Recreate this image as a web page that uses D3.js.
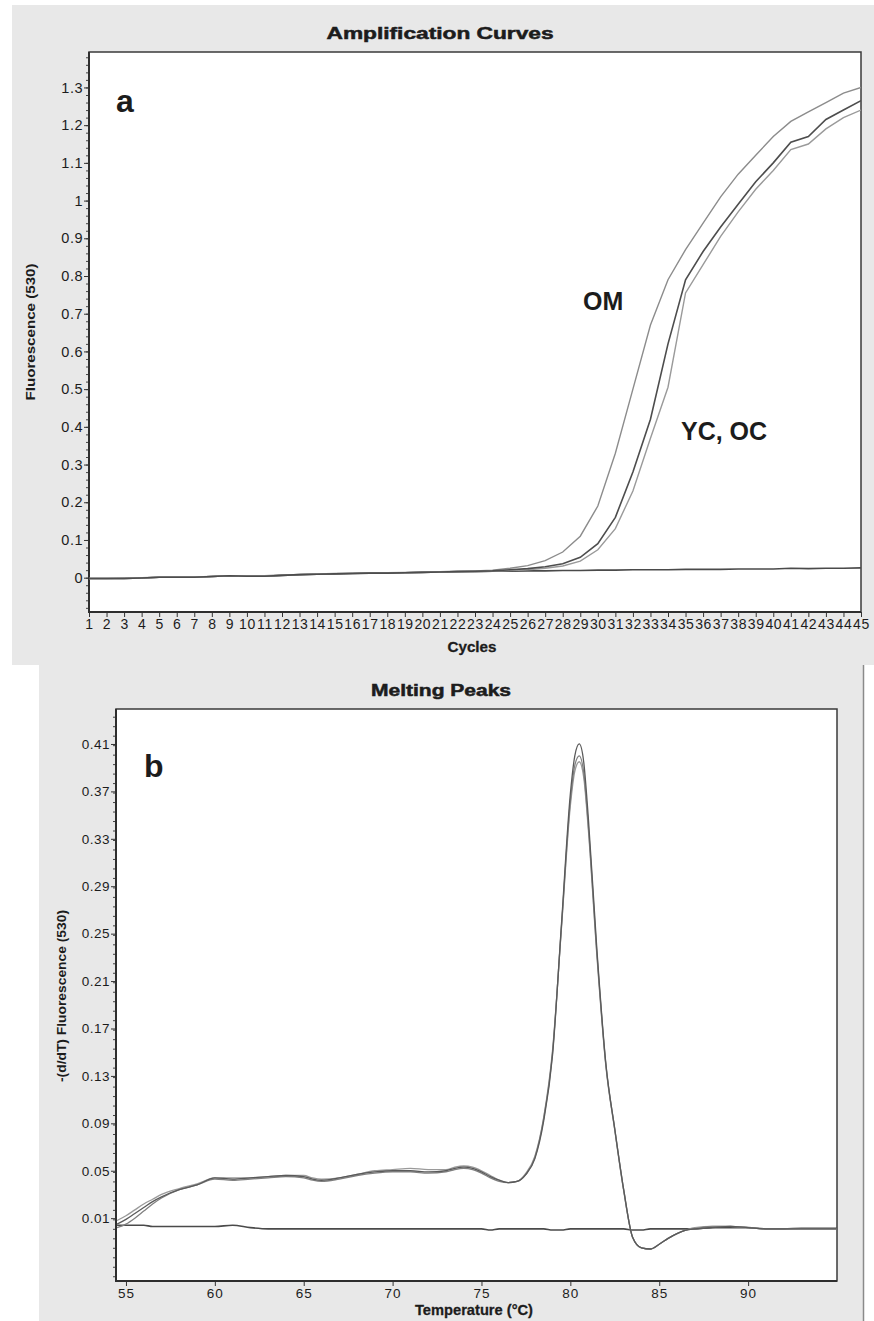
<!DOCTYPE html>
<html>
<head>
<meta charset="utf-8">
<script src="https://d3js.org/d3.v7.min.js"></script>
<style>
    body { margin: 0; background: #fff; }
    svg text { font-family: "Liberation Sans", Arial, sans-serif; fill: #1c1c1c; }
</style>
</head>
<body>
<div id="chart"></div>
<script>

// ---------- amplification data (fluorescence 530 per cycle) ----------
const cycles = [1, 2, 3, 4, 5, 6, 7, 8, 9, 10, 11, 12, 13, 14, 15, 16, 17, 18, 19, 20, 21, 22, 23,
    24, 25, 26, 27, 28, 29, 30, 31, 32, 33, 34, 35, 36, 37, 38, 39, 40, 41, 42, 43, 44, 45];

const omValues = [-0.002, -0.002, -0.001, 0.000, 0.001, 0.002, 0.002, 0.003, 0.005, 0.005, 0.005, 0.007,
    0.008, 0.010, 0.011, 0.012, 0.013, 0.013, 0.014, 0.015, 0.016, 0.017, 0.018, 0.020, 0.025, 0.032,
    0.045, 0.068, 0.110, 0.190, 0.330, 0.500, 0.670, 0.790, 0.870, 0.940, 1.010, 1.070, 1.120, 1.170,
    1.210, 1.235, 1.260, 1.285, 1.300];

const ycValues = [-0.002, -0.002, -0.002, -0.001, 0.001, 0.001, 0.001, 0.003, 0.005, 0.004, 0.004, 0.006,
    0.008, 0.009, 0.010, 0.011, 0.012, 0.012, 0.013, 0.014, 0.015, 0.016, 0.017, 0.018, 0.021, 0.024,
    0.029, 0.037, 0.054, 0.090, 0.160, 0.280, 0.420, 0.620, 0.790, 0.865, 0.930, 0.990, 1.050, 1.100,
    1.155, 1.170, 1.215, 1.240, 1.265];

const ocValues = [-0.002, -0.002, -0.002, -0.001, 0.001, 0.001, 0.001, 0.003, 0.005, 0.004, 0.004, 0.006,
    0.008, 0.009, 0.010, 0.011, 0.012, 0.012, 0.013, 0.014, 0.015, 0.016, 0.016, 0.017, 0.019, 0.021,
    0.025, 0.031, 0.044, 0.074, 0.130, 0.230, 0.370, 0.505, 0.755, 0.830, 0.905, 0.970, 1.030, 1.080,
    1.135, 1.150, 1.190, 1.220, 1.240];

const ntcValues = [-0.002, -0.002, -0.002, -0.001, 0.001, 0.001, 0.001, 0.003, 0.005, 0.004, 0.004, 0.006,
    0.008, 0.009, 0.010, 0.011, 0.012, 0.012, 0.013, 0.014, 0.015, 0.016, 0.016, 0.017, 0.017, 0.018,
    0.018, 0.019, 0.019, 0.020, 0.020, 0.021, 0.021, 0.021, 0.022, 0.022, 0.022, 0.023, 0.023, 0.023,
    0.025, 0.024, 0.025, 0.025, 0.026];

const ampYTicks = [0, 0.1, 0.2, 0.3, 0.4, 0.5, 0.6, 0.7, 0.8, 0.9, 1, 1.1, 1.2, 1.3];

// ---------- melting data (-(d/dT) fluorescence 530 per temperature) ----------
const meltTemps = [54.5, 55, 55.5, 56, 56.5, 57, 58, 59, 60, 61, 62, 63, 64, 65, 65.5, 66, 67, 68, 69, 70,
    71, 72, 73, 73.5, 74, 74.5, 75, 75.5, 76, 76.5, 77, 77.5, 78, 78.5, 79, 79.5, 80, 80.25, 80.5, 80.75,
    81, 81.5, 82, 82.5, 83, 83.5, 84, 84.5, 85, 85.5, 86, 86.5, 87, 88, 89, 90, 91, 92, 93, 94, 95];

const meltA = [0.005, 0.009, 0.014, 0.019, 0.024, 0.028, 0.034, 0.038, 0.044, 0.043, 0.044, 0.045, 0.046,
    0.045, 0.043, 0.042, 0.044, 0.047, 0.049, 0.050, 0.050, 0.049, 0.050, 0.052, 0.053, 0.052, 0.049,
    0.045, 0.042, 0.040, 0.041, 0.047, 0.060, 0.092, 0.148, 0.258, 0.368, 0.400, 0.410, 0.395, 0.350,
    0.235, 0.140, 0.085, 0.034, -0.006, -0.015, -0.016, -0.012, -0.007, -0.003, 0.000, 0.001, 0.002,
    0.003, 0.002, 0.001, 0.001, 0.001, 0.001, 0.001];

const meltB = [0.002, 0.005, 0.010, 0.016, 0.022, 0.027, 0.034, 0.038, 0.043, 0.042, 0.043, 0.044, 0.045,
    0.044, 0.042, 0.041, 0.043, 0.046, 0.048, 0.049, 0.049, 0.048, 0.049, 0.051, 0.052, 0.051, 0.048,
    0.044, 0.041, 0.040, 0.041, 0.047, 0.061, 0.094, 0.150, 0.256, 0.362, 0.392, 0.400, 0.386, 0.343,
    0.232, 0.139, 0.085, 0.034, -0.006, -0.015, -0.016, -0.012, -0.007, -0.003, 0.000, 0.001, 0.003,
    0.003, 0.002, 0.001, 0.001, 0.001, 0.001, 0.001];

const meltC = [0.008, 0.012, 0.017, 0.022, 0.026, 0.030, 0.035, 0.039, 0.044, 0.044, 0.044, 0.045, 0.046,
    0.046, 0.044, 0.043, 0.044, 0.047, 0.050, 0.051, 0.052, 0.051, 0.051, 0.053, 0.054, 0.053, 0.050,
    0.046, 0.042, 0.040, 0.041, 0.048, 0.062, 0.095, 0.152, 0.255, 0.358, 0.387, 0.395, 0.382, 0.340,
    0.230, 0.138, 0.084, 0.033, -0.006, -0.015, -0.016, -0.012, -0.007, -0.003, 0.000, 0.002, 0.003,
    0.003, 0.002, 0.001, 0.001, 0.001, 0.001, 0.001];

const meltNtc = [0.004, 0.004, 0.004, 0.004, 0.003, 0.003, 0.003, 0.003, 0.003, 0.004, 0.002, 0.001, 0.001,
    0.001, 0.001, 0.001, 0.001, 0.001, 0.001, 0.001, 0.001, 0.001, 0.001, 0.001, 0.001, 0.001, 0.001,
    0.000, 0.001, 0.001, 0.001, 0.001, 0.001, 0.001, 0.000, 0.000, 0.001, 0.001, 0.001, 0.001, 0.001,
    0.001, 0.001, 0.001, 0.001, 0.000, 0.000, 0.001, 0.001, 0.001, 0.001, 0.001, 0.001, 0.002, 0.002,
    0.002, 0.001, 0.001, 0.0015, 0.0015, 0.0015];

const meltXTicks = [55, 60, 65, 70, 75, 80, 85, 90];
const meltYTicks = [0.01, 0.05, 0.09, 0.13, 0.17, 0.21, 0.25, 0.29, 0.33, 0.37, 0.41];


/*
 *  CurvePanel - one framed plot with ticks, labels and line series
 */
class CurvePanel {

    constructor(svg, config) {
        this.svg = svg;
        this.config = config;
        this.initVis();
    }

    initVis() {
        let vis = this;
        let c = vis.config;

        vis.g = vis.svg.append("g");

        // scales
        vis.x = d3.scaleLinear().domain(c.xDomain).range([c.left, c.right]);
        vis.y = d3.scaleLinear().domain(c.yDomain).range([c.bottom, c.top]);

        // white plot area
        vis.g.append("rect")
            .attr("x", c.left).attr("y", c.top)
            .attr("width", c.right - c.left).attr("height", c.bottom - c.top)
            .attr("fill", "#fff")
            .attr("stroke", "#3a3a3a").attr("stroke-width", 1.5);

        vis.g.append("clipPath").attr("id", c.id + "-clip")
            .append("rect")
            .attr("x", c.left).attr("y", c.top)
            .attr("width", c.right - c.left).attr("height", c.bottom - c.top);

        // minor y ticks
        vis.g.append("g")
            .attr("transform", "translate(" + c.left + ",0)")
            .call(d3.axisLeft(vis.y).tickValues(c.yMinor).tickSize(3).tickFormat(""))
            .call(g => g.select(".domain").remove())
            .selectAll("line").attr("stroke", "#444");

        // major y ticks
        let yAxis = vis.g.append("g")
            .attr("transform", "translate(" + c.left + ",0)")
            .call(d3.axisLeft(vis.y).tickValues(c.yTicks).tickSize(5).tickPadding(1).tickFormat(c.yFormat));
        yAxis.select(".domain").remove();
        yAxis.selectAll("line").attr("stroke", "#333");
        yAxis.selectAll("text")
            .style("font-size", c.yFont + "px")
            .style("letter-spacing", "0.5px")
            .attr("fill", "#1c1c1c");

        // x ticks
        let xAxis = vis.g.append("g")
            .attr("transform", "translate(0," + c.bottom + ")")
            .call(d3.axisBottom(vis.x).tickValues(c.xTicks).tickSize(5).tickPadding(2).tickFormat(d => d));
        xAxis.select(".domain").remove();
        xAxis.selectAll("line").attr("stroke", "#333");
        xAxis.selectAll("text")
            .style("font-size", c.xFont + "px")
            .style("letter-spacing", c.xSpacing + "px")
            .attr("fill", "#1c1c1c");

        // heavier left and bottom axis lines
        vis.g.append("line")
            .attr("x1", c.left).attr("x2", c.left).attr("y1", c.top).attr("y2", c.bottom + 1)
            .attr("stroke", "#2e2e2e").attr("stroke-width", 2);
        vis.g.append("line")
            .attr("x1", c.left - 1).attr("x2", c.right).attr("y1", c.bottom).attr("y2", c.bottom)
            .attr("stroke", "#2e2e2e").attr("stroke-width", 2);

        // series
        let line = d3.line()
            .x(d => vis.x(d[0]))
            .y(d => vis.y(d[1]))
            .curve(c.curve);

        vis.g.append("g")
            .attr("clip-path", "url(#" + c.id + "-clip)")
            .selectAll("path")
            .data(c.series)
            .join("path")
            .attr("d", s => line(c.xValues.map((xv, i) => [xv, s.values[i]])))
            .attr("fill", "none")
            .attr("stroke", s => s.color)
            .attr("stroke-width", s => s.width);

        // title and axis titles (heavy, wide bitmap-like look)
        vis.g.append("text")
            .attr("x", c.title.x).attr("y", c.title.y)
            .attr("text-anchor", "middle")
            .attr("textLength", c.title.len).attr("lengthAdjust", "spacingAndGlyphs")
            .style("font-size", "16px").style("font-weight", "bold")
            .attr("stroke", "#1c1c1c").attr("stroke-width", 0.5)
            .text(c.title.text);

        vis.g.append("text")
            .attr("x", c.xLabel.x).attr("y", c.xLabel.y)
            .attr("text-anchor", "middle")
            .attr("textLength", c.xLabel.len).attr("lengthAdjust", "spacingAndGlyphs")
            .style("font-size", "15px").style("font-weight", "bold")
            .attr("stroke", "#1c1c1c").attr("stroke-width", 0.3)
            .text(c.xLabel.text);

        vis.g.append("text")
            .attr("transform", "translate(" + c.yLabel.x + "," + c.yLabel.y + ") rotate(-90)")
            .attr("text-anchor", "middle")
            .attr("textLength", c.yLabel.len).attr("lengthAdjust", "spacingAndGlyphs")
            .style("font-size", "13px").style("font-weight", "bold")
            .text(c.yLabel.text);

        // annotations (panel letter, sample names)
        vis.g.selectAll(".note")
            .data(c.notes)
            .join("text")
            .attr("class", "note")
            .attr("x", d => d.x).attr("y", d => d.y)
            .style("font-size", d => d.size + "px")
            .style("font-weight", "bold")
            .attr("fill", "#111")
            .text(d => d.text);
    }
}


// ---------- page ----------
const svg = d3.select("#chart").append("svg")
    .attr("width", 874)
    .attr("height", 1321);

// grey panel backgrounds
svg.append("rect").attr("x", 12).attr("y", 5).attr("width", 862).attr("height", 660).attr("fill", "#e8e8e8");
svg.append("rect").attr("x", 39).attr("y", 665).attr("width", 824).attr("height", 656).attr("fill", "#e8e8e8");
svg.append("line").attr("x1", 863.5).attr("x2", 863.5).attr("y1", 665).attr("y2", 1321)
    .attr("stroke", "#8a8a8a").attr("stroke-width", 1.5);

// a: amplification curves
new CurvePanel(svg, {
    id: "amp",
    left: 89, right: 861, top: 52, bottom: 612,
    xDomain: [1, 45], yDomain: [-0.091, 1.394],
    xValues: cycles,
    xTicks: cycles, xFont: 14, xSpacing: 0.6,
    yTicks: ampYTicks, yFont: 14.5,
    yMinor: d3.range(-0.08, 1.39, 0.02),
    yFormat: d => d3.format(".1f")(d).replace(/\.0$/, ""),
    curve: d3.curveLinear,
    series: [
        {name: "NTC", values: ntcValues, color: "#4a4a4a", width: 1.6},
        {name: "OM", values: omValues, color: "#8c8c8c", width: 1.4},
        {name: "OC", values: ocValues, color: "#9a9a9a", width: 1.4},
        {name: "YC", values: ycValues, color: "#4d4d4d", width: 1.6}
    ],
    title: {text: "Amplification Curves", x: 440, y: 39, len: 227},
    xLabel: {text: "Cycles", x: 472, y: 652, len: 49},
    yLabel: {text: "Fluorescence (530)", x: 35, y: 332, len: 137},
    notes: [
        {text: "a", x: 116, y: 112, size: 32},
        {text: "OM", x: 583, y: 310, size: 25},
        {text: "YC, OC", x: 681, y: 440, size: 25}
    ]
});

// b: melting peaks
new CurvePanel(svg, {
    id: "melt",
    left: 116, right: 837, top: 709, bottom: 1281,
    xDomain: [54.44, 95], yDomain: [-0.043, 0.4395],
    xValues: meltTemps,
    xTicks: meltXTicks, xFont: 13.5, xSpacing: 1,
    yTicks: meltYTicks, yFont: 13.5,
    yMinor: d3.range(-0.039, 0.44, 0.008),
    yFormat: d3.format(".2f"),
    curve: d3.curveMonotoneX,
    series: [
        {name: "NTC", values: meltNtc, color: "#4a4a4a", width: 1.6},
        {name: "C", values: meltC, color: "#9a9a9a", width: 1.3},
        {name: "B", values: meltB, color: "#808080", width: 1.3},
        {name: "A", values: meltA, color: "#5a5a5a", width: 1.3}
    ],
    title: {text: "Melting Peaks", x: 441, y: 696, len: 140},
    xLabel: {text: "Temperature (\u00B0C)", x: 474, y: 1315, len: 118},
    yLabel: {text: "-(d/dT) Fluorescence (530)", x: 66, y: 996, len: 172},
    notes: [
        {text: "b", x: 144, y: 777, size: 32}
    ]
});

</script>
</body>
</html>
